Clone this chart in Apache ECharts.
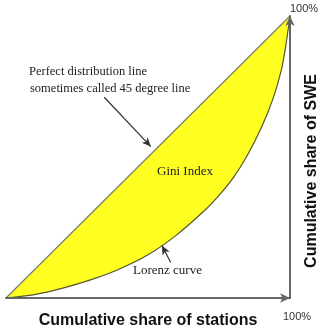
<!DOCTYPE html>
<html>
<head>
<meta charset="utf-8">
<script src="https://cdn.jsdelivr.net/npm/echarts@6/dist/echarts.min.js"></script>
<style>
html,body{margin:0;padding:0;background:#fff;}
#chart{width:328px;height:334px;}
</style>
</head>
<body>
<div id="chart"></div>
<script>
// Cumulative share of stations (x) and of SWE (y)
const equalityX = [0, 1];
const equalityY = [0, 1];
const lorenzX = [0, 0.1, 0.2, 0.3, 0.4, 0.5, 0.6, 0.7, 0.75, 0.8, 0.85, 0.9, 0.94, 0.97, 0.985, 1];
const lorenzY = [0, 0.012, 0.035, 0.065, 0.103, 0.153, 0.223, 0.311, 0.364, 0.426, 0.506, 0.606, 0.706, 0.811, 0.894, 1];
const tickLabels = ['100%', '100%'];
const xTitle = 'Cumulative share of stations';
const yTitle = 'Cumulative share of SWE';

const chart = echarts.init(document.getElementById('chart'));
const serif = '"Liberation Serif", "DejaVu Serif", serif';
const sans = '"Liberation Sans", Arial, sans-serif';

const option = {
  animation: false,
  backgroundColor: '#fff',
  grid: { left: 6, right: 35, top: 16, bottom: 33 },
  xAxis: {
    type: 'value', min: 0, max: 1, z: 10,
    name: xTitle, nameLocation: 'middle', nameGap: 15,
    nameTextStyle: { fontFamily: sans, fontSize: 16, fontWeight: 'bold', color: '#111' },
    axisLine: { onZero: false, symbol: ['none', 'arrow'], symbolSize: [7, 10], lineStyle: { color: '#666', width: 2 } },
    axisTick: { show: false }, axisLabel: { show: false }, splitLine: { show: false }
  },
  yAxis: {
    type: 'value', min: 0, max: 1, position: 'right', z: 10,
    name: yTitle, nameLocation: 'middle', nameGap: 14,
    nameTextStyle: { fontFamily: sans, fontSize: 16, fontWeight: 'bold', color: '#111', padding: [0, 28, 0, 0] },
    axisLine: { onZero: false, symbol: ['none', 'arrow'], symbolSize: [7, 10], lineStyle: { color: '#666', width: 2 } },
    axisTick: { show: false }, axisLabel: { show: false }, splitLine: { show: false }
  },
  series: [
    {
      type: 'line', showSymbol: false, symbol: 'none',
      data: equalityX.map((x, i) => [x, equalityY[i]]),
      lineStyle: { color: '#7a7a6a', width: 1.2 },
      areaStyle: { color: '#ffff22', opacity: 1 },
      markLine: {
        silent: true, symbol: ['none', 'arrow'], symbolSize: [6, 9],
        label: { show: false },
        lineStyle: { color: '#333', width: 1.2, type: 'solid' },
        data: [
          [{ coord: [0.346, 0.712] }, { coord: [0.51, 0.537] }],
          [{ coord: [0.58, 0.126] }, { coord: [0.549, 0.186] }]
        ]
      }
    },
    {
      type: 'line', showSymbol: false, symbol: 'none', smooth: 0.3,
      data: lorenzX.map((x, i) => [x, lorenzY[i]]),
      lineStyle: { color: '#55552e', width: 1.2 },
      areaStyle: { color: '#ffffff', opacity: 1 }
    }
  ],
  graphic: [
    { type: 'text', z: 100, left: 290, top: 3, style: { text: tickLabels[0], font: '11px ' + sans, fill: '#333' } },
    { type: 'text', z: 100, left: 283, top: 311, style: { text: tickLabels[1], font: '11px ' + sans, fill: '#333' } },
    { type: 'text', z: 100, left: 29, top: 65, style: { text: 'Perfect distribution line', font: '12.5px ' + serif, fill: '#222' } },
    { type: 'text', z: 100, left: 30, top: 82, style: { text: 'sometimes called 45 degree line', font: '12.5px ' + serif, fill: '#222' } },
    { type: 'text', z: 100, left: 157, top: 165, style: { text: 'Gini Index', font: '13px ' + serif, fill: '#222' } },
    { type: 'text', z: 100, left: 133, top: 264, style: { text: 'Lorenz curve', font: '13px ' + serif, fill: '#222' } }
  ]
};
chart.setOption(option);
</script>
</body>
</html>
